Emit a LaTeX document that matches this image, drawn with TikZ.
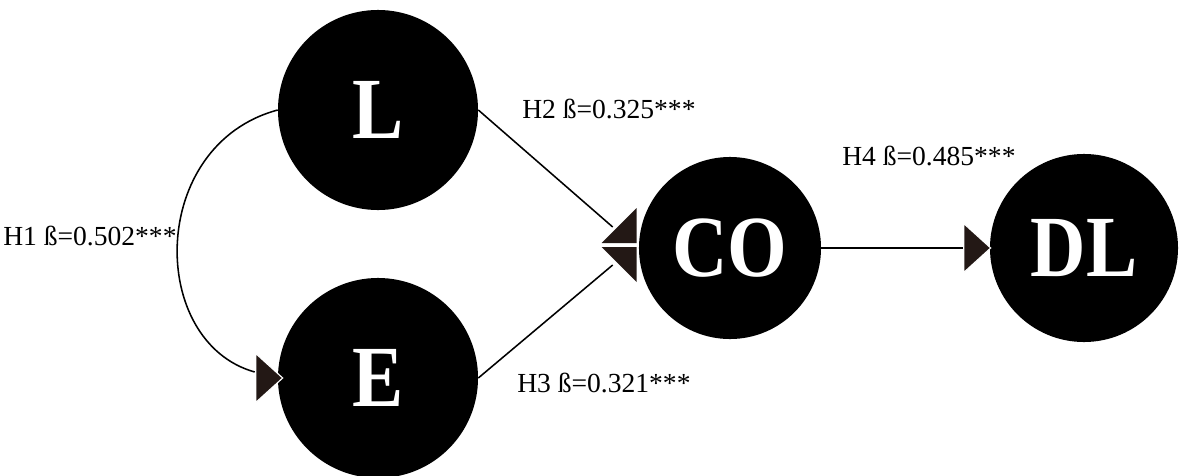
\documentclass[tikz,border=0pt]{standalone}
\usepackage{fontspec}
\setmainfont{Liberation Serif}
\usetikzlibrary{calc}
\definecolor{headfill}{HTML}{231815}

\newcommand{\varname}[1]{\scalebox{0.88}[1]{#1}}

\tikzset{
	var/.style={circle, fill=black, text=white, inner sep=0pt, font=\fontsize{62}{62}\selectfont\bfseries},
	link/.style={draw=black, line width=1.1pt},
	headtri/.style={fill=headfill, draw=white, line width=0.8pt},
	coef/.style={anchor=base west, inner sep=0pt, font=\fontsize{19.6}{21}\selectfont}
}

\begin{document}
\begin{tikzpicture}[x=0.025cm, y=-0.025cm]
	\useasboundingbox (0,0) rectangle (1186,475);
	
	\node[var, minimum size=5cm] (L) at (378,110) {\varname{L}};
	\node[var, minimum size=5cm] (E) at (378,378) {\varname{E}};
	\node[var, minimum size=4.55cm] (CO) at (730,248) {\varname{CO}};
	\node[var, minimum size=4.7cm] (DL) at (1084,248) {\varname{DL}};
	
	% H1: L -> E
	\draw[link] (L.west) .. controls +(-130,35) and +(-107,-30) .. ($(E.west)+(-23,-6)$);
	\filldraw[headtri] ($(E.west)+(5,0)$) -- ++(-27,-24.5) -- ++(0,49) -- cycle;
	
	% H2, H3: into CO
	\draw[link] (L.east) -- ($(CO.west)+(-26,-21)$);
	\draw[link] (E.east) -- ($(CO.west)+(-26,17)$);
	\fill[headfill] ($(CO.west)+(-2,-5)$) -- ++(-35,0) -- ++(35,-35) -- cycle;
	\fill[headfill] ($(CO.west)+(-2,-1)$) -- ++(-35,0) -- ++(35,35) -- cycle;
	
	% H4: CO -> DL
	\draw[link] (CO.east) -- ($(DL.west)+(-27,0)$);
	\filldraw[headtri] ($(DL.west)+(1,0)$) -- ++(-27,-24.5) -- ++(0,49) -- cycle;
	
	\node[coef] (h1) at (3,245) {H1 ß=0.502***};
	\node[coef] (h2) at (522,118) {H2 ß=0.325***};
	\node[coef] (h3) at (517,392) {H3 ß=0.321***};
	\node[coef] (h4) at (842,165) {H4 ß=0.485***};
\end{tikzpicture}
\end{document}
